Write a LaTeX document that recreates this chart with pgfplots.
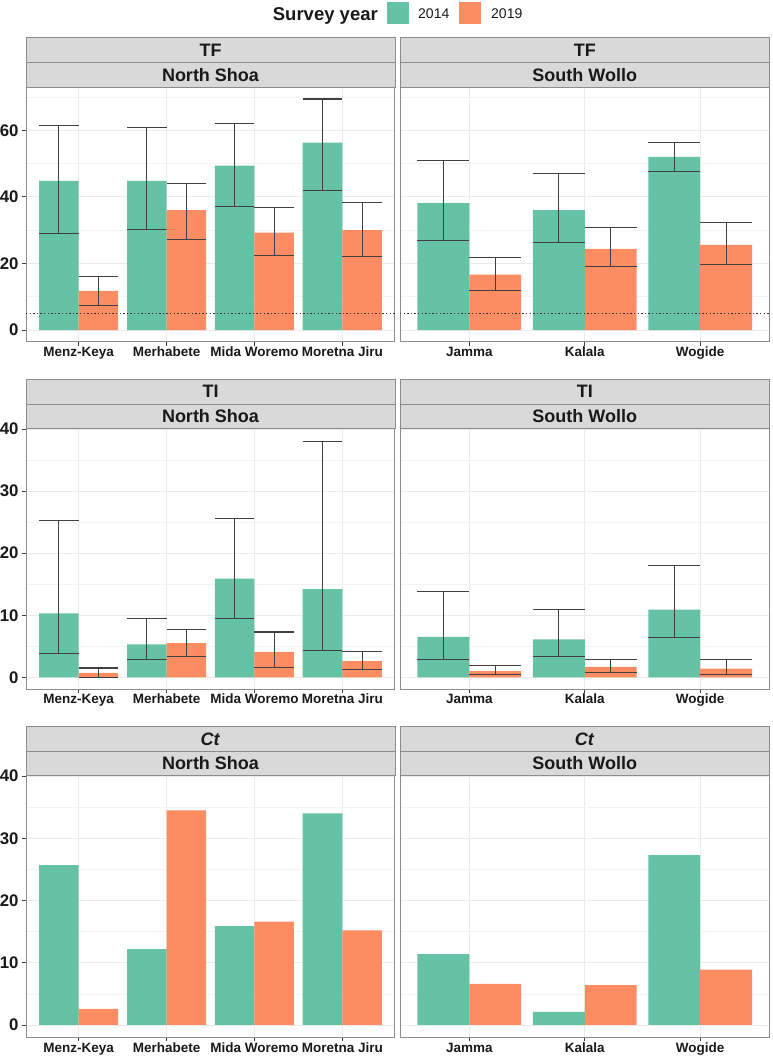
\documentclass[border=0pt]{standalone}
\usepackage{pgfplots}
\usepackage{pgfplotstable}
\pgfplotsset{compat=1.18}
\usepackage{fontspec}
\setmainfont{Liberation Sans}
\definecolor{c14}{HTML}{66C2A5}
\definecolor{c19}{HTML}{FC8D62}
\definecolor{stripfill}{HTML}{D9D9D9}
\definecolor{frame}{HTML}{8C8C8C}
\definecolor{gridmaj}{HTML}{EBEBEB}
\definecolor{gridmin}{HTML}{F3F3F3}
\definecolor{errc}{HTML}{404040}

% ---------------- data ----------------
\pgfplotstableread{
x y lo hi
0.775 44.8 29.1 61.4
1.775 44.8 30.1 60.7
2.775 49.4 37.0 61.9
3.775 56.3 41.9 69.4
}\tfnsA
\pgfplotstableread{
x y lo hi
1.225 11.8 7.5 16.0
2.225 36.0 27.3 44.1
3.225 29.3 22.3 36.8
4.225 30.0 22.1 38.2
}\tfnsB
\pgfplotstableread{
x y lo hi
0.775 38.1 26.8 50.9
1.775 36.0 26.2 46.9
2.775 52.0 47.5 56.2
}\tfswA
\pgfplotstableread{
x y lo hi
1.225 16.7 12.0 21.7
2.225 24.4 19.0 30.9
3.225 25.6 19.8 32.2
}\tfswB
\pgfplotstableread{
x y lo hi
0.775 10.3 3.8 25.3
1.775 5.3 2.9 9.5
2.775 15.9 9.5 25.6
3.775 14.2 4.3 38.0
}\tinsA
\pgfplotstableread{
x y lo hi
1.225 0.7 0.0 1.5
2.225 5.5 3.4 7.75
3.225 4.1 1.6 7.3
4.225 2.6 1.2 4.2
}\tinsB
\pgfplotstableread{
x y lo hi
0.775 6.5 2.9 13.8
1.775 6.1 3.4 10.9
2.775 10.9 6.4 18.0
}\tiswA
\pgfplotstableread{
x y lo hi
1.225 1.0 0.4 1.9
2.225 1.7 0.8 2.9
3.225 1.4 0.4 2.8
}\tiswB
\pgfplotstableread{
x y
0.775 25.7
1.775 12.2
2.775 15.9
3.775 34.0
}\ctnsA
\pgfplotstableread{
x y
1.225 2.6
2.225 34.5
3.225 16.6
4.225 15.2
}\ctnsB
\pgfplotstableread{
x y
0.775 11.4
1.775 2.1
2.775 27.3
}\ctswA
\pgfplotstableread{
x y
1.225 6.6
2.225 6.4
3.225 8.9
}\ctswB

\pgfplotsset{
  panel/.style={
    scale only axis,
    axis line style={draw=frame, line width=1bp},
    tick align=outside,
    major tick length=4bp,
    minor tick length=0pt,
    xtick pos=bottom, ytick pos=left,
    xtick style={draw=black!75, line width=0.8bp},
    ytick style={draw=black!75, line width=0.8bp},
    ymajorgrids, yminorgrids, xmajorgrids,
    major grid style={draw=gridmaj, line width=0.9bp},
    minor grid style={draw=gridmin, line width=0.7bp},
    xticklabel style={font=\fontsize{13.5bp}{16bp}\selectfont\bfseries, text=black!90, anchor=base, yshift=-11bp},
    yticklabel style={font=\fontsize{16.8bp}{18bp}\selectfont\bfseries, text=black!90},
    /pgf/number format/assume math mode=true,
  },
  left4/.style={panel, width=369bp, xmin=0.4, xmax=4.6, xtick={1,2,3,4},
    xticklabels={Menz-Keya,Merhabete,Mida Woremo,Moretna Jiru}},
  right3/.style={panel, width=369.5bp, xmin=0.4, xmax=3.6, xtick={1,2,3},
    xticklabels={Jamma,Kalala,Wogide}, yticklabels={}, ytick style={draw=none}},
  rowTF/.style={ymin=-3.47, ymax=72.9, ytick={0,20,40,60}, minor ytick={10,30,50,70}},
  rowTI/.style={ymin=-1.93, ymax=40.05, ytick={0,10,20,30,40}, minor ytick={5,15,25,35}},
  bar14/.style={ybar, bar width=0.45, bar shift=0pt, fill=c14, draw=none},
  bar19/.style={ybar, bar width=0.45, bar shift=0pt, fill=c19, draw=none},
  errs/.style={
    /pgfplots/error bars/y dir=both,
    /pgfplots/error bars/y explicit,
    /pgfplots/error bars/error bar style={draw=errc, fill=none, line width=1.1bp},
    /pgfplots/error bars/error mark options={rotate=90, draw=errc, fill=none, line width=1.1bp, mark size=#1}},
  dotline/.style={draw=black!80, line width=1.3bp, dash pattern=on 1.3bp off 2.3bp, forget plot},
}

\newcommand{\strips}[6]{%
  \draw[draw=frame, fill=stripfill, line width=1bp] (#1bp,-#3bp) rectangle (#2bp,-#4bp);
  \draw[draw=frame, fill=stripfill, line width=1bp] (#1bp,-#4bp) rectangle (#2bp,-#5bp);
}
\newcommand{\striptext}[3]{\node[font=\fontsize{18bp}{20bp}\selectfont\bfseries, text=black!90, inner sep=0pt] at (#1bp,-#2bp) {#3};}

\begin{document}
\begin{tikzpicture}
\useasboundingbox (0,0) rectangle (773bp,-1057bp);

% legend
\node[anchor=base east, inner sep=0pt, font=\fontsize{18.5bp}{20bp}\selectfont\bfseries, text=black!90] at (378bp,-20.5bp) {Survey year};
\fill[c14] (387bp,-2.3bp) rectangle (409bp,-24bp);
\node[anchor=base west, inner sep=0pt, font=\fontsize{14bp}{16bp}\selectfont, text=black!90] at (418bp,-18.5bp) {2014};
\fill[c19] (459bp,-2.3bp) rectangle (481bp,-24bp);
\node[anchor=base west, inner sep=0pt, font=\fontsize{14bp}{16bp}\selectfont, text=black!90] at (491bp,-18.5bp) {2019};

% strips
\strips{26}{395}{37.7}{62.7}{87.3}{}
\strips{400}{769.5}{37.7}{62.7}{87.3}{}
\strips{26}{395}{379.3}{404}{428.7}{}
\strips{400}{769.5}{379.3}{404}{428.7}{}
\strips{26}{395}{726.7}{751}{775.7}{}
\strips{400}{769.5}{726.7}{751}{775.7}{}
\striptext{210.5}{50.2}{TF}
\striptext{210.5}{75}{North Shoa}
\striptext{584.75}{50.2}{TF}
\striptext{584.75}{75}{South Wollo}
\striptext{210.5}{391.65}{TI}
\striptext{210.5}{416.35}{North Shoa}
\striptext{584.75}{391.65}{TI}
\striptext{584.75}{416.35}{South Wollo}
\striptext{210.5}{738.85}{\textit{Ct}}
\striptext{210.5}{763.35}{North Shoa}
\striptext{584.75}{738.85}{\textit{Ct}}
\striptext{584.75}{763.35}{South Wollo}

% ---- Row 1: TF ----
\begin{axis}[left4, rowTF, at={(26bp,-87.3bp)}, anchor=north west, height=254.4bp]
\addplot[bar14, errs=19.77bp] table[x=x, y=y, y error plus expr=\thisrow{hi}-\thisrow{y}, y error minus expr=\thisrow{y}-\thisrow{lo}] {\tfnsA};
\addplot[bar19, errs=19.77bp] table[x=x, y=y, y error plus expr=\thisrow{hi}-\thisrow{y}, y error minus expr=\thisrow{y}-\thisrow{lo}] {\tfnsB};
\addplot[dotline] coordinates {(0.4,5) (4.6,5)};
\end{axis}
\begin{axis}[right3, rowTF, at={(400bp,-87.3bp)}, anchor=north west, height=254.4bp]
\addplot[bar14, errs=25.98bp] table[x=x, y=y, y error plus expr=\thisrow{hi}-\thisrow{y}, y error minus expr=\thisrow{y}-\thisrow{lo}] {\tfswA};
\addplot[bar19, errs=25.98bp] table[x=x, y=y, y error plus expr=\thisrow{hi}-\thisrow{y}, y error minus expr=\thisrow{y}-\thisrow{lo}] {\tfswB};
\addplot[dotline] coordinates {(0.4,5) (3.6,5)};
\end{axis}

% ---- Row 2: TI ----
\begin{axis}[left4, rowTI, at={(26bp,-428.7bp)}, anchor=north west, height=260.6bp, xticklabel style={yshift=0.6bp}]
\addplot[bar14, errs=19.77bp] table[x=x, y=y, y error plus expr=\thisrow{hi}-\thisrow{y}, y error minus expr=\thisrow{y}-\thisrow{lo}] {\tinsA};
\addplot[bar19, errs=19.77bp] table[x=x, y=y, y error plus expr=\thisrow{hi}-\thisrow{y}, y error minus expr=\thisrow{y}-\thisrow{lo}] {\tinsB};
\end{axis}
\begin{axis}[right3, rowTI, at={(400bp,-428.7bp)}, anchor=north west, height=260.6bp, xticklabel style={yshift=0.6bp}]
\addplot[bar14, errs=25.98bp] table[x=x, y=y, y error plus expr=\thisrow{hi}-\thisrow{y}, y error minus expr=\thisrow{y}-\thisrow{lo}] {\tiswA};
\addplot[bar19, errs=25.98bp] table[x=x, y=y, y error plus expr=\thisrow{hi}-\thisrow{y}, y error minus expr=\thisrow{y}-\thisrow{lo}] {\tiswB};
\end{axis}

% ---- Row 3: Ct ----
\begin{axis}[left4, rowTI, at={(26bp,-775.7bp)}, anchor=north west, height=261.3bp]
\addplot[bar14] table[x=x, y=y] {\ctnsA};
\addplot[bar19] table[x=x, y=y] {\ctnsB};
\end{axis}
\begin{axis}[right3, rowTI, at={(400bp,-775.7bp)}, anchor=north west, height=261.3bp]
\addplot[bar14] table[x=x, y=y] {\ctswA};
\addplot[bar19] table[x=x, y=y] {\ctswB};
\end{axis}
\end{tikzpicture}
\end{document}
